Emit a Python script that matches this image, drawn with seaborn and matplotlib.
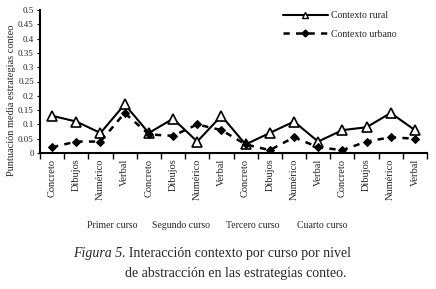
import matplotlib
matplotlib.use("Agg")
import matplotlib.pyplot as plt
import seaborn as sns
import pandas as pd
from matplotlib.lines import Line2D

levels = ["Concreto", "Dibujos", "Numérico", "Verbal"]
courses = ["Primer curso", "Segundo curso", "Tercero curso", "Cuarto curso"]
categories = levels * 4
rural = [0.13, 0.11, 0.07, 0.17, 0.07, 0.12, 0.04, 0.13,
         0.03, 0.07, 0.11, 0.04, 0.08, 0.09, 0.14, 0.08]
urbano = [0.02, 0.04, 0.04, 0.14, 0.065, 0.06, 0.10, 0.08,
          0.03, 0.01, 0.055, 0.02, 0.01, 0.04, 0.055, 0.05]
yticks = [0, 0.05, 0.1, 0.15, 0.2, 0.25, 0.3, 0.35, 0.4, 0.45, 0.5]
ytick_labels = ["0", "0.05", "0.1", "0.15", "0.2", "0.25", "0.3", "0.35", "0.4", "0.45", "0.5"]

sns.set_theme(style="white")
plt.rcParams['font.family'] = ['Liberation Serif', 'DejaVu Serif']

n = len(categories)
df = pd.DataFrame({
    "pos": list(range(n)) * 2,
    "valor": rural + urbano,
    "serie": ["Contexto rural"] * n + ["Contexto urbano"] * n,
})

fig = plt.figure(figsize=(4.36, 2.89), dpi=100)
ax = fig.add_axes([40/436, 1-153/289, (427-40)/436, (153-10)/289])

sns.lineplot(data=df[df.serie == "Contexto rural"], x="pos", y="valor", ax=ax,
             color="black", lw=1.5, marker="^", markersize=7,
             markerfacecolor="white", markeredgecolor="black", markeredgewidth=1.2)
sns.lineplot(data=df[df.serie == "Contexto urbano"], x="pos", y="valor", ax=ax,
             color="black", lw=1.8, linestyle=(0, (2.5, 2.5)), marker="D", markersize=4.5,
             markerfacecolor="black", markeredgecolor="black")

ax.set_xlim(-0.5, n - 0.5)
ax.set_ylim(0, 0.5)
ax.set_yticks(yticks)
ax.set_yticklabels(ytick_labels, fontsize=6.5)
ax.set_xticks(range(n))
ax.set_xticklabels(categories, rotation=90, fontsize=7.5)
ax.set_xticks([i - 0.5 for i in range(n + 1)], minor=True)
ax.tick_params(axis="x", which="major", length=0, pad=4)
ax.tick_params(axis="x", which="minor", length=4, width=1, direction="out", color="black", bottom=True)
ax.tick_params(axis="y", length=2.5, width=0.8, direction="out", color="black", left=True, pad=2)
ax.set_xlabel("")
ax.set_ylabel("Puntuación media estrategias conteo", fontsize=7.5)
ax.yaxis.set_label_coords((16-40)/387, (153-100)/143)
sns.despine(ax=ax)
for s in ["left", "bottom"]:
    ax.spines[s].set_color("black")
    ax.spines[s].set_linewidth(1.5)
ax.grid(False)

handles = [
    Line2D([], [], color="black", lw=1.5, marker="^", markersize=5,
           markerfacecolor="white", markeredgecolor="black"),
    Line2D([], [], color="black", lw=1.8, linestyle=(0, (2.5, 2.5)), marker="D",
           markersize=3.5, markerfacecolor="black"),
]
ax.legend(handles, ["Contexto rural", "Contexto urbano"], loc="upper left",
          bbox_to_anchor=(283/436, 1-11/289), bbox_transform=fig.transFigure,
          frameon=False, fontsize=7, handlelength=4.6, handletextpad=0.3,
          labelspacing=1.0, borderaxespad=0, borderpad=0)

for xc, c in zip([112, 181, 253, 322], courses):
    fig.text(xc/436, 1-225/289, c, ha="center", va="center", fontsize=7)

fig.text(122/436, 1-253/289, "Figura 5", ha="right", va="center", fontsize=10, style="italic")
fig.text(122/436, 1-253/289, ". Interacción contexto por curso por nivel", ha="left", va="center", fontsize=10)
fig.text(125/436, 1-273/289, "de abstracción en las estrategias conteo.", ha="left", va="center", fontsize=10)

fig.savefig("out.png", dpi=100, facecolor="white")
